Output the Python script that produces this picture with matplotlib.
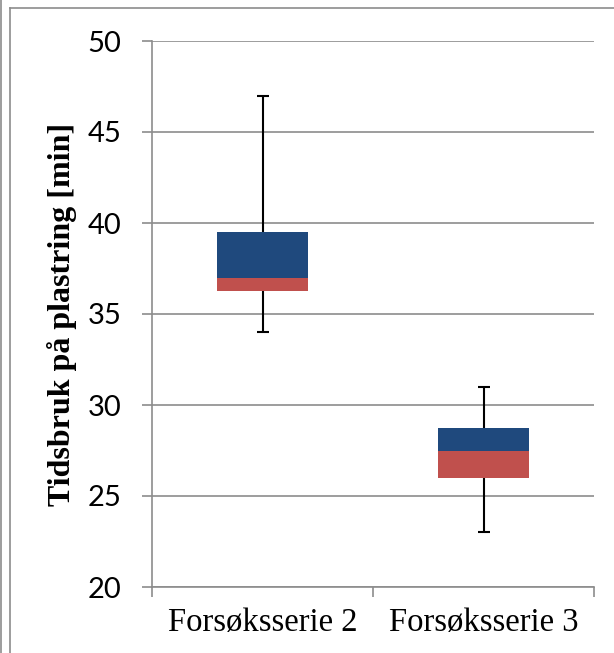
import matplotlib
matplotlib.use("Agg")
import matplotlib.pyplot as plt
from matplotlib.lines import Line2D
import numpy as np

categories = ["Forsøksserie 2", "Forsøksserie 3"]
minimum = [34.0, 23.0]
q1 = [36.25, 26.0]
median = [37.0, 27.45]
q3 = [39.5, 28.75]
maximum = [47.0, 31.0]
yticks = [20, 25, 30, 35, 40, 45, 50]

W, H = 614, 653
fig = plt.figure(figsize=(W / 100, H / 100), dpi=100)
ax = fig.add_axes([152 / W, 66 / H, (594 - 152) / W, (587 - 41) / H])

x = np.arange(len(categories))
q1a, meda, q3a = np.array(q1), np.array(median), np.array(q3)
mina, maxa = np.array(minimum), np.array(maximum)

ax.errorbar(x, meda, yerr=[meda - mina, maxa - meda], fmt="none", ecolor="black",
            elinewidth=1.5, capsize=4.5, capthick=1.5, zorder=2)
ax.bar(x, meda - q1a, bottom=q1a, width=0.41, color="#C0504D", zorder=3)
ax.bar(x, q3a - meda, bottom=meda, width=0.41, color="#1F497D", zorder=3)

ax.set_xlim(-0.5, 1.5)
ax.set_ylim(20, 50)
ax.set_yticks(yticks)
ax.set_yticklabels([str(t) for t in yticks], fontsize=21, family="Lato")
ax.yaxis.grid(True, color="#8c8c8c", linewidth=1.2, zorder=0)
ax.set_axisbelow(True)

ax.set_xticks(x)
ax.set_xticklabels(categories, fontsize=23.5, family="Liberation Serif")
ax.set_xticks([-0.5, 0.5, 1.5], minor=True)
ax.tick_params(axis="x", which="major", length=0, pad=15)
ax.tick_params(axis="x", which="minor", length=7, color="#8c8c8c", width=1.2)
ax.tick_params(axis="y", length=7, color="#8c8c8c", width=1.2, pad=15)

for s in ["top", "right"]:
    ax.spines[s].set_visible(False)
for s in ["left", "bottom"]:
    ax.spines[s].set_color("#8c8c8c")
    ax.spines[s].set_linewidth(1.2)

ax.set_ylabel("Tidsbruk på plastring [min]", fontsize=23, fontweight="bold",
              family="Liberation Serif")
ax.yaxis.set_label_coords((77 - 152) / (594 - 152), 0.5)

# outer frame lines
fc = "#8c8c8c"
fig.add_artist(Line2D([1.5 / W, 1.5 / W], [0, 1], color=fc, lw=1.2))
fig.add_artist(Line2D([9.5 / W, 9.5 / W], [0, 1 - 8 / H], color=fc, lw=1.2))
fig.add_artist(Line2D([9.5 / W, 1], [1 - 8 / H, 1 - 8 / H], color=fc, lw=1.2))

fig.savefig("out.png", dpi=100)
